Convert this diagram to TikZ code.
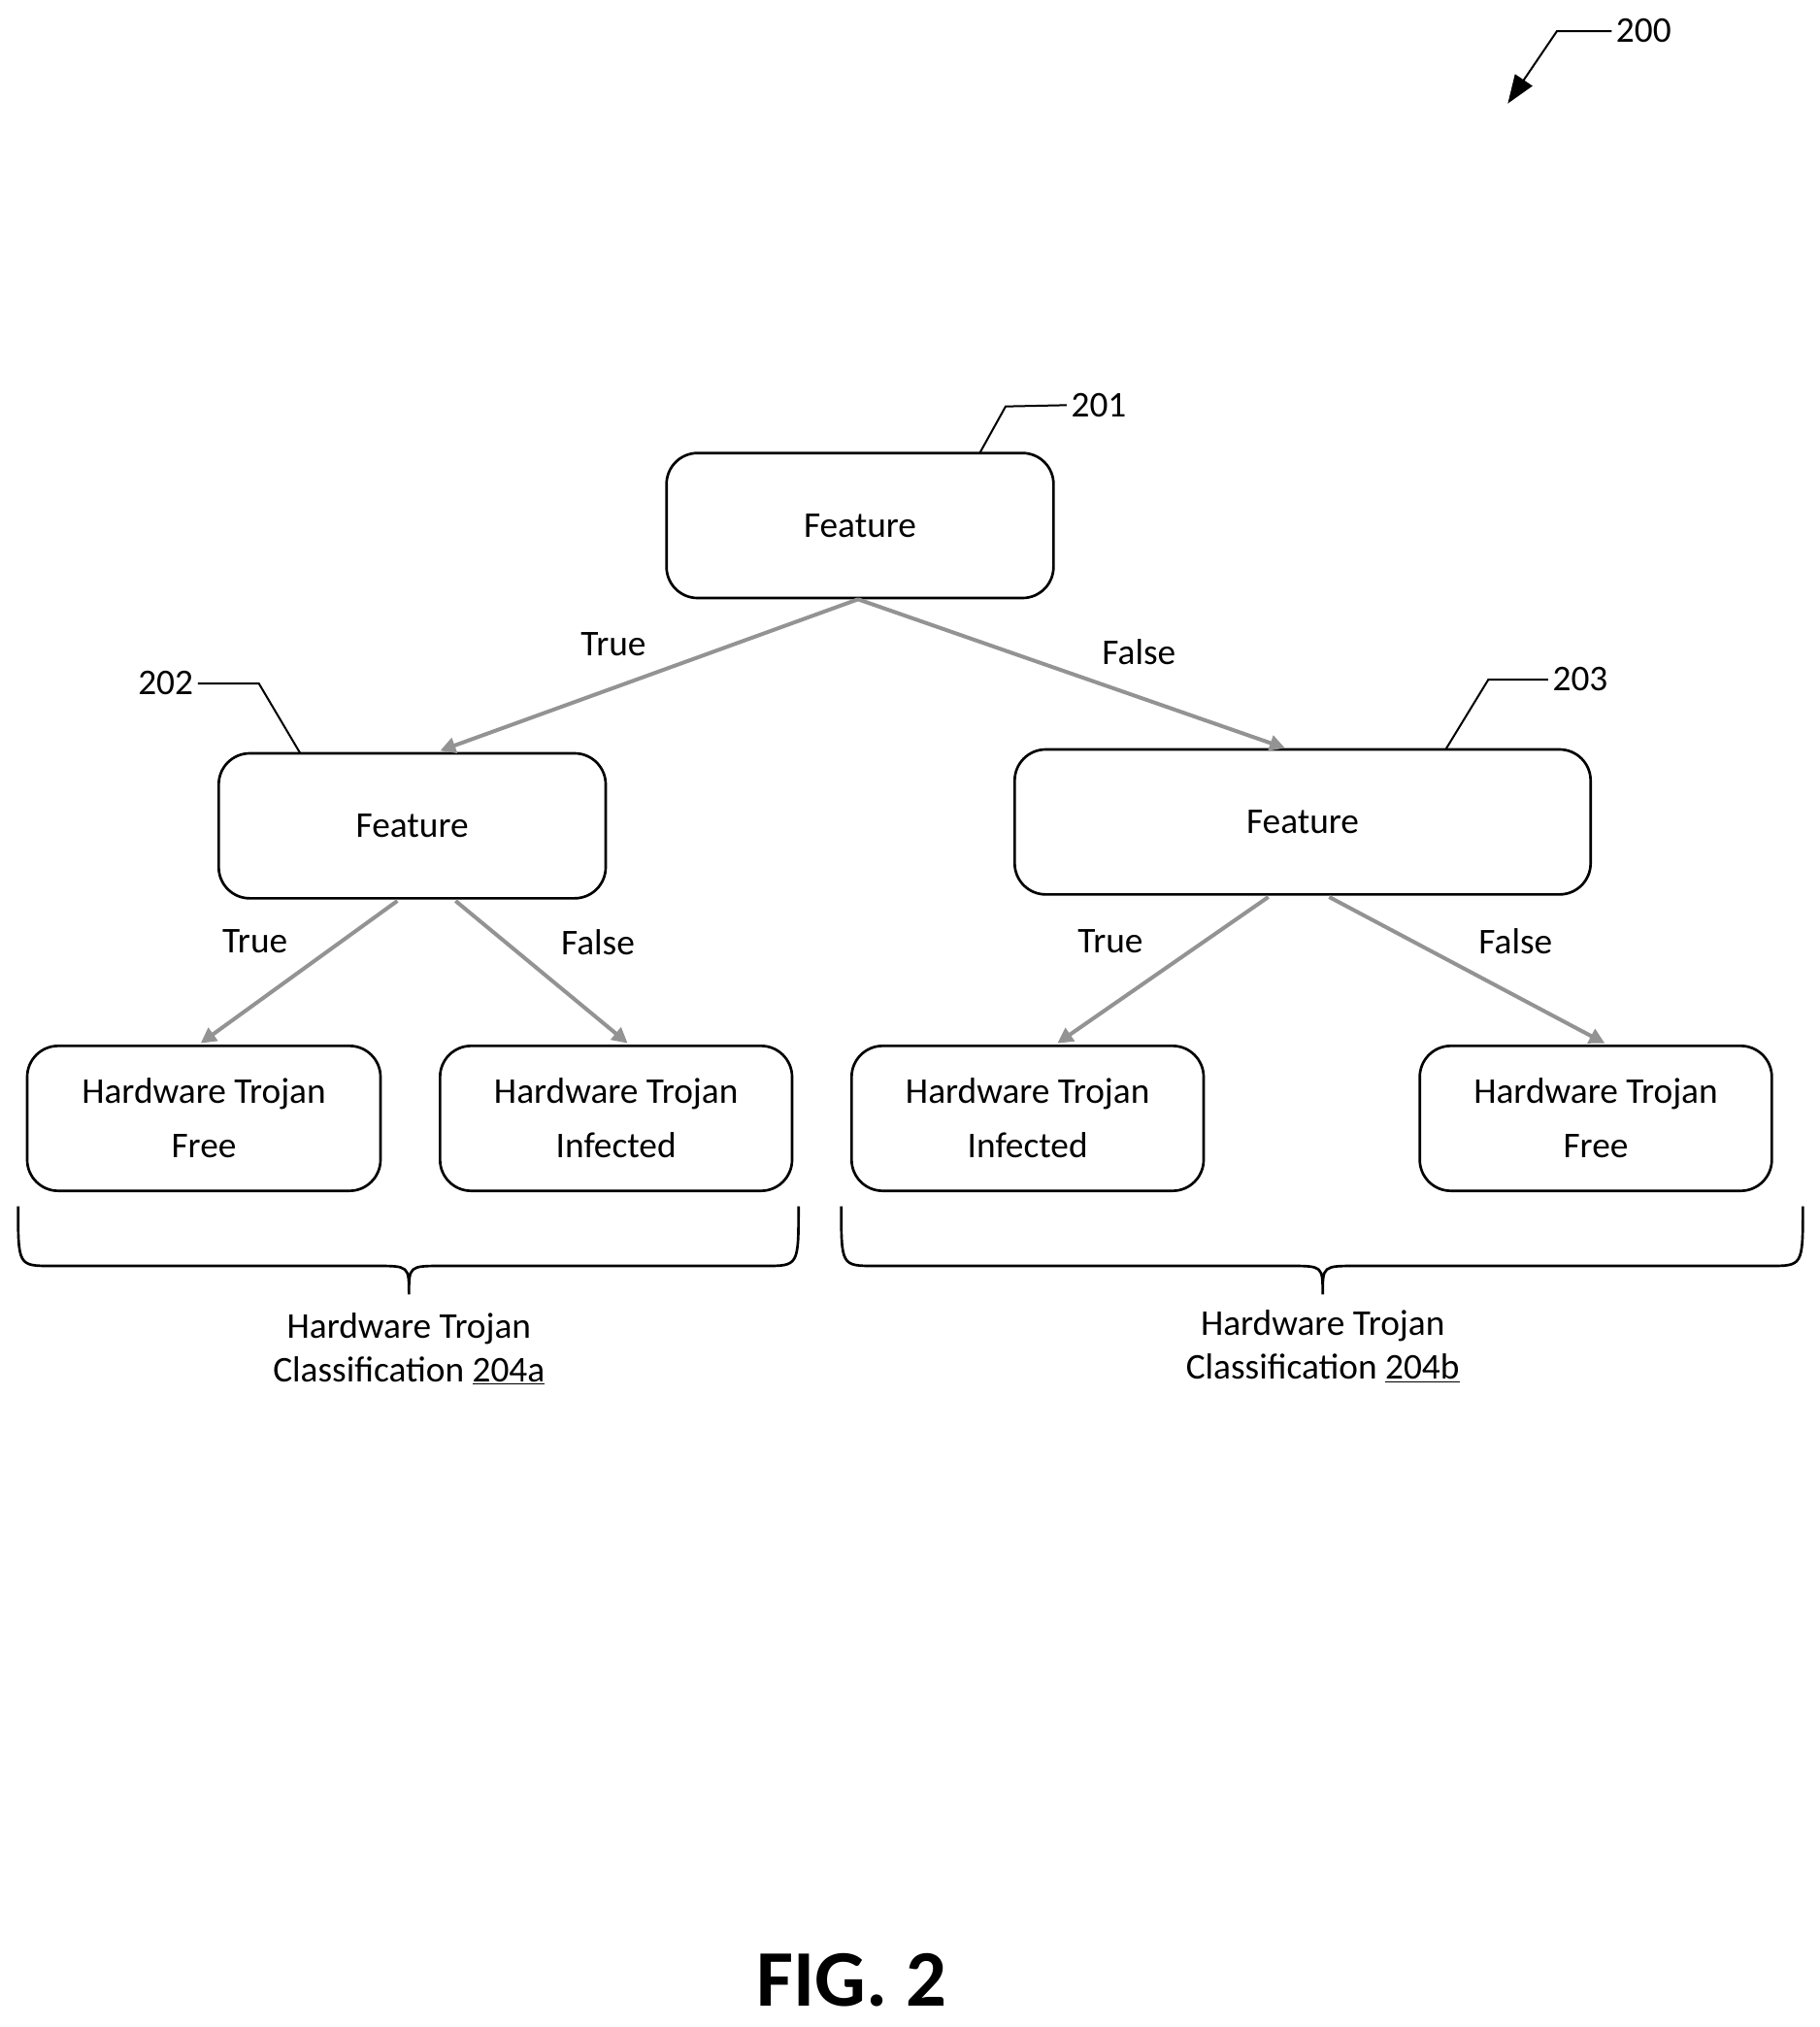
\documentclass[tikz,border=0pt]{standalone}
\usepackage{fontspec}
\setmainfont{Carlito}
\usetikzlibrary{arrows.meta}
\begin{document}
\begin{tikzpicture}[x=1pt,y=-1pt,
 box/.style={draw,line width=2pt,rounded corners=24pt,align=center,font=\fontsize{28}{42}\selectfont,inner sep=0pt},
 arr/.style={draw=gray!85,line width=3pt,-{Triangle[length=12pt,width=12pt]}},
 lbl/.style={font=\fontsize{28}{34}\selectfont},
 ld/.style={line width=1.5pt}]
\useasboundingbox (0,0) rectangle (1406,1566);
\node[box,minimum width=299pt,minimum height=112pt] (f1) at (664.5,406) {Feature};
\node[box,minimum width=299pt,minimum height=112pt] (f2) at (318.5,638) {Feature};
\node[box,minimum width=445pt,minimum height=112pt] (f3) at (1006.5,635) {Feature};
\node[box,minimum width=273pt,minimum height=112pt] (l1) at (157.5,864) {Hardware Trojan\\Free};
\node[box,minimum width=272pt,minimum height=112pt] (l2) at (476,864) {Hardware Trojan\\Infected};
\node[box,minimum width=272pt,minimum height=112pt] (l3) at (794,864) {Hardware Trojan\\Infected};
\node[box,minimum width=272pt,minimum height=112pt] (l4) at (1233,864) {Hardware Trojan\\Free};
\coordinate (a1) at (663,463); \coordinate (t1) at (340,580); \coordinate (t2) at (993,578);
\draw[arr] (a1) -- (t1); \draw[arr] (a1) -- (t2);
\coordinate (b1) at (307,696); \coordinate (b2) at (352,696);
\coordinate (c1) at (155,806); \coordinate (c2) at (485,806);
\draw[arr] (b1) -- (c1); \draw[arr] (b2) -- (c2);
\coordinate (d1) at (980,693); \coordinate (d2) at (1027,693);
\coordinate (e1) at (817,806); \coordinate (e2) at (1240,806);
\draw[arr] (d1) -- (e1); \draw[arr] (d2) -- (e2);
\node[lbl] (tr1) at (474,498) {True};
\node[lbl] (fa1) at (880,504) {False};
\node[lbl] (tr2) at (197,727) {True};
\node[lbl] (fa2) at (462,728) {False};
\node[lbl] (tr3) at (858,727) {True};
\node[lbl] (fa3) at (1171,727) {False};
% braces
\draw[line width=2pt] (14,932) .. controls (14,978) .. (40,978) -- (290,978) .. controls (316,978) .. (316,1000) .. controls (316,978) .. (342,978) -- (591,978) .. controls (617,978) .. (617,932);
\draw[line width=2pt] (650,932) .. controls (650,978) .. (676,978) -- (996,978) .. controls (1022,978) .. (1022,1000) .. controls (1022,978) .. (1048,978) -- (1367,978) .. controls (1393,978) .. (1393,932);
\node[lbl,align=center] (c204a) at (316,1042) {Hardware Trojan\\Classification \underline{204a}};
\node[lbl,align=center] (c204b) at (1022,1040) {Hardware Trojan\\Classification \underline{204b}};
% refs
\node[lbl] (r201) at (849,313) {201};
\draw[ld] (757,350) -- (777,314) -- (r201.west);
\node[lbl] (r202) at (128,528) {202};
\draw[ld] (r202.east) -- (200,528) -- (232,582);
\node[lbl] (r203) at (1221,525) {203};
\draw[ld] (r203.west) -- (1150,525) -- (1117,579);
\node[lbl] (r200) at (1270,24) {200};
\coordinate (p200) at (1165,80);
\draw[ld,-{Triangle[length=22pt,width=16pt]}] (r200.west) -- (1203,24) -- (p200);
\node[font=\fontsize{62}{70}\selectfont\bfseries] (fig) at (658,1530) {FIG. 2};
\end{tikzpicture}
\end{document}
